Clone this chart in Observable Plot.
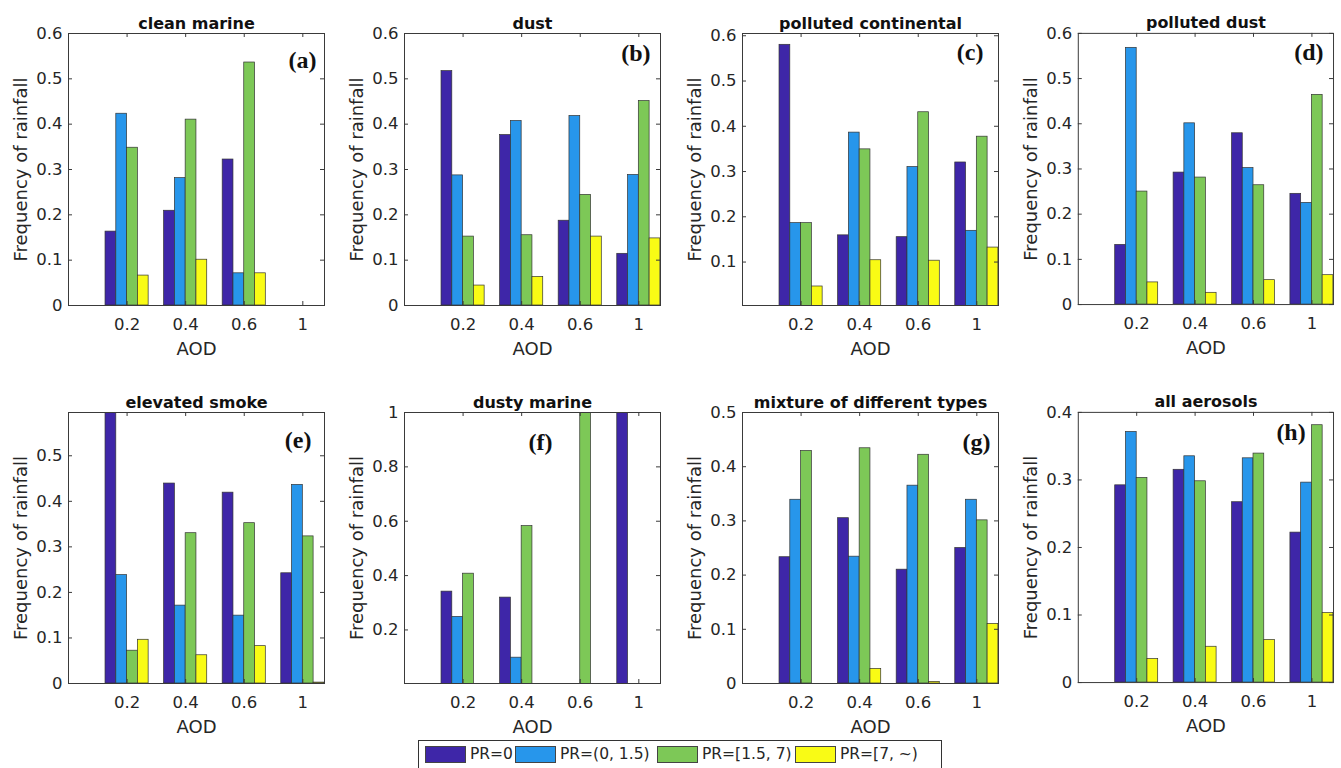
<!DOCTYPE html>
<html>
<head>
<meta charset="utf-8">
<script src="https://cdn.jsdelivr.net/npm/d3@7"></script>
<script src="https://cdn.jsdelivr.net/npm/@observablehq/plot@0.6"></script>
<style>
  body { margin: 0; background: #fff; }
  #fig { position: relative; width: 1341px; height: 768px; overflow: hidden; background: #fff; font-family: "DejaVu Sans", sans-serif; }
  .panel { position: absolute; }
  #legend { position: absolute; left: 418px; top: 740px; width: 524px; height: 34px; border: 1px solid #333; box-sizing: border-box; background: #fff; }
  .sw { position: absolute; top: 5px; width: 41px; height: 17px; border: 1px solid #444; box-sizing: border-box; }
  .lt { position: absolute; top: 3px; font-size: 15.5px; color: #262626; line-height: 20px; white-space: nowrap; }
</style>
</head>
<body>
<div id="fig"></div>
<script>
// ---------- data ----------
const aodLabels = ["0.2", "0.4", "0.6", "1"];
const seriesNames = ["PR=0", "PR=(0, 1.5)", "PR=[1.5, 7)", "PR=[7, ~)"];
const seriesColors = ["#3e26a8", "#2796eb", "#7dc857", "#f9fb15"];

const panelTitles = ["clean marine", "dust", "polluted continental", "polluted dust",
  "elevated smoke", "dusty marine", "mixture of different types", "all aerosols"];
const panelTags = ["(a)", "(b)", "(c)", "(d)", "(e)", "(f)", "(g)", "(h)"];

// values[series][aod bin]
const cleanMarine = [
  [0.163, 0.209, 0.322, 0],
  [0.423, 0.281, 0.071, 0],
  [0.348, 0.410, 0.536, 0],
  [0.066, 0.101, 0.071, 0]
];
const dust = [
  [0.517, 0.376, 0.187, 0.114],
  [0.287, 0.407, 0.418, 0.288],
  [0.152, 0.155, 0.244, 0.451],
  [0.044, 0.063, 0.152, 0.148]
];
const pollutedContinental = [
  [0.580, 0.159, 0.155, 0.320],
  [0.186, 0.386, 0.310, 0.169],
  [0.186, 0.349, 0.431, 0.377],
  [0.046, 0.104, 0.103, 0.132]
];
const pollutedDust = [
  [0.132, 0.292, 0.379, 0.245],
  [0.568, 0.401, 0.302, 0.225],
  [0.250, 0.281, 0.264, 0.464],
  [0.049, 0.026, 0.054, 0.065]
];
const elevatedSmoke = [
  [0.620, 0.439, 0.419, 0.242],
  [0.238, 0.171, 0.149, 0.436],
  [0.072, 0.330, 0.352, 0.323],
  [0.096, 0.062, 0.082, 0.002]
];
const dustyMarine = [
  [0.341, 0.319, 0, 1.0],
  [0.248, 0.098, 0, 0],
  [0.407, 0.582, 1.0, 0],
  [0, 0, 0, 0]
];
const mixtureTypes = [
  [0.233, 0.305, 0.210, 0.250],
  [0.339, 0.234, 0.365, 0.339],
  [0.429, 0.434, 0.422, 0.301],
  [0, 0.027, 0.003, 0.110]
];
const allAerosols = [
  [0.292, 0.315, 0.267, 0.222],
  [0.371, 0.335, 0.332, 0.296],
  [0.303, 0.298, 0.339, 0.381],
  [0.035, 0.053, 0.063, 0.103]
];
const panelValues = [cleanMarine, dust, pollutedContinental, pollutedDust,
  elevatedSmoke, dustyMarine, mixtureTypes, allAerosols];

// y tick labels and limits per panel
const yTicksA = [0, 0.1, 0.2, 0.3, 0.4, 0.5, 0.6];
const yTicksC = [0.1, 0.2, 0.3, 0.4, 0.5, 0.6];
const yTicksE = [0, 0.1, 0.2, 0.3, 0.4, 0.5];
const yTicksF = [0.2, 0.4, 0.6, 0.8, 1];
const yTicksG = [0, 0.1, 0.2, 0.3, 0.4, 0.5];
const yTicksH = [0, 0.1, 0.2, 0.3, 0.4];
const panelYTicks = [yTicksA, yTicksA, yTicksC, yTicksA, yTicksE, yTicksF, yTicksG, yTicksH];
const panelYDomains = [[0, 0.6], [0, 0.6], [0.004, 0.605], [0, 0.6],
  [0, 0.595], [0.003, 1], [0, 0.5], [0, 0.4]];

// ---------- layout (styles, not data) ----------
const frameW = 256;
const frameLefts = [67.5, 404, 742, 1078];
const frameTops = [33, 412];
const frameHs = [272, 271];
const mL = 70, mR = 8, mT = 40, mB = 62;
const tagOffsets = [[8, 27], [10, 20], [15, 19], [10, 19], [13, 28], [108, 30], [8, 30], [28, 20]];
const barW = 0.184;
const axisColor = "#3a3a3a";
const textColor = "#262626";

const fig = document.getElementById("fig");

panelValues.forEach((vals, p) => {
  const row = Math.floor(p / 4), col = p % 4;
  const H = frameHs[row];
  const rows = [];
  vals.forEach((serie, s) => {
    serie.forEach((v, g) => {
      if (v > 0) {
        const c = g + 1 + (s - 1.5) * barW;
        rows.push({series: seriesNames[s], aod: aodLabels[g], value: v, x1: c - barW / 2, x2: c + barW / 2});
      }
    });
  });
  const yTicks = panelYTicks[p];
  const xTicks = aodLabels.map((d, i) => i + 1);
  const [tdx, tdy] = tagOffsets[p];

  const chart = Plot.plot({
    width: mL + frameW + mR,
    height: mT + H + mB,
    marginLeft: mL, marginRight: mR, marginTop: mT, marginBottom: mB,
    style: {fontFamily: "DejaVu Sans, sans-serif", fontSize: "16px", color: textColor, background: "transparent", overflow: "visible"},
    x: {domain: [0, 4.37], axis: null},
    y: {domain: panelYDomains[p], axis: null},
    color: {domain: seriesNames, range: seriesColors},
    marks: [
      Plot.rectY(rows, {x1: "x1", x2: "x2", y1: 0, y2: "value", fill: "series", stroke: "#333", strokeWidth: 0.7, clip: true}),
      Plot.frame({stroke: axisColor, strokeWidth: 1}),
      Plot.axisY({ticks: yTicks, tickSize: 0, tickPadding: 6, tickFormat: d => d3.format("~g")(d), label: null, fontSize: 16.5, fill: textColor}),
      Plot.axisX({ticks: xTicks, tickSize: 0, tickPadding: 13, tickFormat: i => aodLabels[i - 1], label: null, fontSize: 16.5, fill: textColor}),
      Plot.tickY(yTicks, {y: d => d, insetRight: frameW - 4, stroke: axisColor}),
      Plot.tickY(yTicks, {y: d => d, insetLeft: frameW - 4, stroke: axisColor}),
      Plot.tickX(xTicks, {x: d => d, insetTop: H - 4, stroke: axisColor}),
      Plot.tickX(xTicks, {x: d => d, insetBottom: H - 4, stroke: axisColor}),
      Plot.text([panelTitles[p]], {text: d => d, frameAnchor: "top", dy: -5, lineAnchor: "bottom", textAnchor: "middle", fontWeight: "bold", fontSize: 16, fill: "#111"}),
      Plot.text(["AOD"], {text: d => d, frameAnchor: "bottom", dy: 44, lineAnchor: "middle", textAnchor: "middle", fontSize: 18, fill: textColor}),
      Plot.text(["Frequency of rainfall"], {text: d => d, frameAnchor: "left", dx: -47, rotate: -90, textAnchor: "middle", lineAnchor: "middle", fontSize: 18, fill: textColor}),
      Plot.text([panelTags[p]], {text: d => d, frameAnchor: "top-right", dx: -tdx, dy: tdy, textAnchor: "end", lineAnchor: "middle", fontFamily: "Liberation Serif, Times New Roman, serif", fontWeight: "bold", fontSize: 24, fill: "#111"})
    ]
  });
  const wrap = document.createElement("div");
  wrap.className = "panel";
  wrap.style.left = (frameLefts[col] - mL) + "px";
  wrap.style.top = (frameTops[row] - mT) + "px";
  wrap.appendChild(chart);
  fig.appendChild(wrap);
});

// legend
const legend = document.createElement("div");
legend.id = "legend";
const swLefts = [6, 96, 238, 376];
seriesNames.forEach((name, i) => {
  const sw = document.createElement("div");
  sw.className = "sw";
  sw.style.left = swLefts[i] + "px";
  sw.style.background = seriesColors[i];
  legend.appendChild(sw);
  const t = document.createElement("div");
  t.className = "lt";
  t.style.left = (swLefts[i] + 45) + "px";
  t.textContent = name;
  legend.appendChild(t);
});
fig.appendChild(legend);
</script>
</body>
</html>
